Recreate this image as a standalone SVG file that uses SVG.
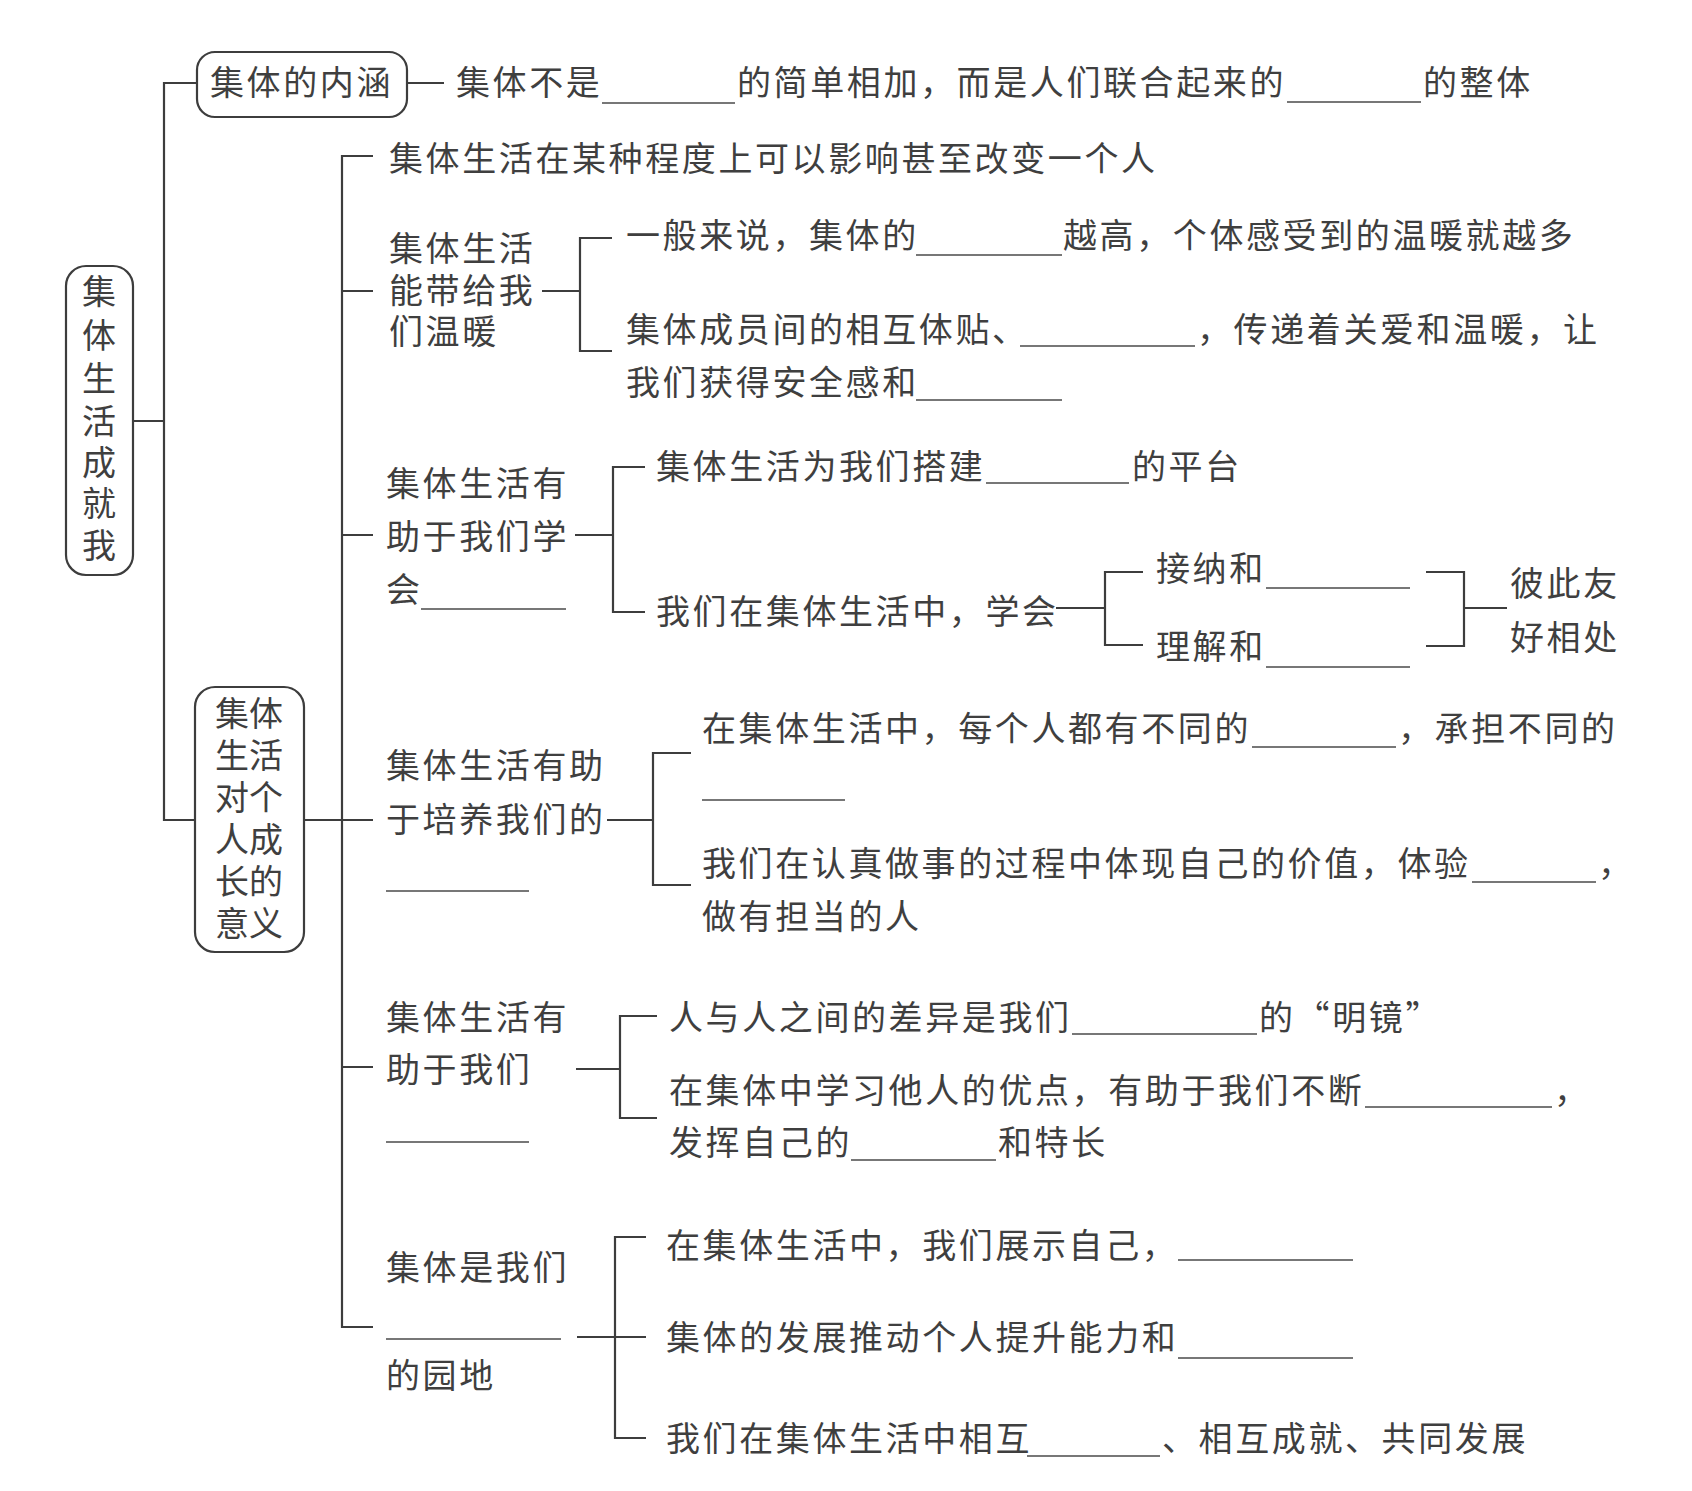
<svg xmlns="http://www.w3.org/2000/svg" width="1692" height="1491" viewBox="0 0 1692 1491">
<style>
.t{font-family:"Noto Sans CJK SC","Noto Sans CJK TC",sans-serif;font-size:34px;letter-spacing:2.6px;fill:#3f3f3f;}
.bx{font-family:"Noto Sans CJK SC","Noto Sans CJK TC",sans-serif;font-size:34px;fill:#3f3f3f;}
.c{text-anchor:middle;}
.ln{stroke:#3d3d3d;stroke-width:2.2;fill:none;}
.box{stroke:#3d3d3d;stroke-width:2.2;fill:#fff;}
.bl{stroke:#4a4a4a;stroke-width:1.7;fill:none;}
</style>
<rect width="1692" height="1491" fill="#fff"/>
<g id="connectors">
<path class="ln" d="M133,421 H164 M197,83 H164 V820 H197"/>
<path class="ln" d="M407,83 H444"/>
<path class="ln" d="M373,156 H342 V1327 H373 M304,820 H373 M342,291 H373 M342,535 H373 M342,1067 H373"/>
<path class="ln" d="M542,291 H580 M612,238 H580 V351 H612"/>
<path class="ln" d="M575,535 H613 M645,467 H613 V612 H645"/>
<path class="ln" d="M1056,608 H1105 M1143,572 H1105 V645 H1143"/>
<path class="ln" d="M1426,572 H1464 V646 H1426 M1464,608 H1507"/>
<path class="ln" d="M607,820 H653 M691,753 H653 V885 H691"/>
<path class="ln" d="M576,1069 H620 M657,1016 H620 V1118 H657"/>
<path class="ln" d="M577,1337 H646 M646,1237 H615 V1438 H646"/>
</g>
<g id="root">
<rect class="box" x="66" y="266" width="67" height="309" rx="20"/>
<text class="bx c"><tspan x="99" y="304">集</tspan><tspan x="99" y="348">体</tspan><tspan x="99" y="391">生</tspan><tspan x="99" y="434">活</tspan><tspan x="99" y="475">成</tspan><tspan x="99" y="516">就</tspan><tspan x="99" y="558">我</tspan></text>
</g>
<g id="node-neihan">
<rect class="box" x="197" y="52" width="210" height="65" rx="18"/>
<text class="t" x="210" y="95">集体的内涵</text>
</g>
<g id="node-neihan-text">
<text class="t" x="456" y="95">集体不是</text>
<line class="bl" x1="602" y1="103" x2="735" y2="103"/>
<text class="t" x="737" y="95">的简单相加，而是人们联合起来的</text>
<line class="bl" x1="1287" y1="102" x2="1421" y2="102"/>
<text class="t" x="1423" y="95">的整体</text>
</g>
<g id="node-yiyi">
<rect class="box" x="195" y="687" width="109" height="265" rx="20"/>
<text class="bx"><tspan x="215" y="726">集体</tspan><tspan x="215" y="768">生活</tspan><tspan x="215" y="810">对个</tspan><tspan x="215" y="852">人成</tspan><tspan x="215" y="894">长的</tspan><tspan x="215" y="936">意义</tspan></text>
</g>
<g id="node-yingxiang">
<text class="t" x="389" y="171">集体生活在某种程度上可以影响甚至改变一个人</text>
</g>
<g id="node-wennuan">
<text class="t"><tspan x="389" y="261">集体生活</tspan><tspan x="389" y="303">能带给我</tspan><tspan x="389" y="344">们温暖</tspan></text>
</g>
<g id="node-wennuan-1">
<text class="t" x="626" y="248">一般来说，集体的</text>
<line class="bl" x1="916" y1="255" x2="1062" y2="255"/>
<text class="t" x="1063" y="248">越高，个体感受到的温暖就越多</text>
</g>
<g id="node-wennuan-2">
<text class="t" x="626" y="342">集体成员间的相互体贴、</text>
<line class="bl" x1="1020" y1="346" x2="1195" y2="346"/>
<text class="t" x="1197" y="342">，传递着关爱和温暖，让</text>
<text class="t" x="626" y="395">我们获得安全感和</text>
<line class="bl" x1="916" y1="400" x2="1062" y2="400"/>
</g>
<g id="node-xuehui">
<text class="t"><tspan x="386" y="496">集体生活有</tspan><tspan x="386" y="549">助于我们学</tspan><tspan x="386" y="602">会</tspan></text>
<line class="bl" x1="421" y1="609" x2="566" y2="609"/>
</g>
<g id="node-xuehui-1">
<text class="t" x="656" y="479">集体生活为我们搭建</text>
<line class="bl" x1="986" y1="483" x2="1129" y2="483"/>
<text class="t" x="1132" y="479">的平台</text>
</g>
<g id="node-xuehui-2">
<text class="t" x="656" y="624">我们在集体生活中，学会</text>
</g>
<g id="node-jiena">
<text class="t" x="1156" y="581">接纳和</text>
<line class="bl" x1="1266" y1="588" x2="1410" y2="588"/>
</g>
<g id="node-lijie">
<text class="t" x="1156" y="659">理解和</text>
<line class="bl" x1="1266" y1="667" x2="1410" y2="667"/>
</g>
<g id="node-youhao">
<text class="t"><tspan x="1510" y="596">彼此友</tspan><tspan x="1510" y="650">好相处</tspan></text>
</g>
<g id="node-peiyang">
<text class="t"><tspan x="386" y="778">集体生活有助</tspan><tspan x="386" y="832">于培养我们的</tspan></text>
<line class="bl" x1="386" y1="891" x2="529" y2="891"/>
</g>
<g id="node-peiyang-1">
<text class="t" x="702" y="741">在集体生活中，每个人都有不同的</text>
<line class="bl" x1="1252" y1="747" x2="1396" y2="747"/>
<text class="t" x="1398" y="741">，承担不同的</text>
<line class="bl" x1="702" y1="800" x2="845" y2="800"/>
</g>
<g id="node-peiyang-2">
<text class="t" x="702" y="876">我们在认真做事的过程中体现自己的价值，体验</text>
<line class="bl" x1="1472" y1="882" x2="1596" y2="882"/>
<text class="t" x="1598" y="876">，</text>
<text class="t" x="702" y="929">做有担当的人</text>
</g>
<g id="node-women">
<text class="t"><tspan x="386" y="1030">集体生活有</tspan><tspan x="386" y="1082">助于我们</tspan></text>
<line class="bl" x1="386" y1="1142" x2="529" y2="1142"/>
</g>
<g id="node-women-1">
<text class="t" x="669" y="1030">人与人之间的差异是我们</text>
<line class="bl" x1="1072" y1="1034" x2="1257" y2="1034"/>
<text class="t" x="1259" y="1030">的“明镜”</text>
</g>
<g id="node-women-2">
<text class="t" x="669" y="1103">在集体中学习他人的优点，有助于我们不断</text>
<line class="bl" x1="1365" y1="1107" x2="1552" y2="1107"/>
<text class="t" x="1554" y="1103">，</text>
<text class="t" x="669" y="1155">发挥自己的</text>
<line class="bl" x1="851" y1="1160" x2="996" y2="1160"/>
<text class="t" x="998" y="1155">和特长</text>
</g>
<g id="node-yuandi">
<text class="t" x="386" y="1280">集体是我们</text>
<line class="bl" x1="386" y1="1339" x2="561" y2="1339"/>
<text class="t" x="386" y="1388">的园地</text>
</g>
<g id="node-yuandi-1">
<text class="t" x="666" y="1258">在集体生活中，我们展示自己，</text>
<line class="bl" x1="1178" y1="1260" x2="1353" y2="1260"/>
</g>
<g id="node-yuandi-2">
<text class="t" x="666" y="1350">集体的发展推动个人提升能力和</text>
<line class="bl" x1="1178" y1="1358" x2="1353" y2="1358"/>
</g>
<g id="node-yuandi-3">
<text class="t" x="666" y="1451">我们在集体生活中相互</text>
<line class="bl" x1="1027" y1="1456" x2="1160" y2="1456"/>
<text class="t" x="1162" y="1451">、相互成就、共同发展</text>
</g>
</svg>
